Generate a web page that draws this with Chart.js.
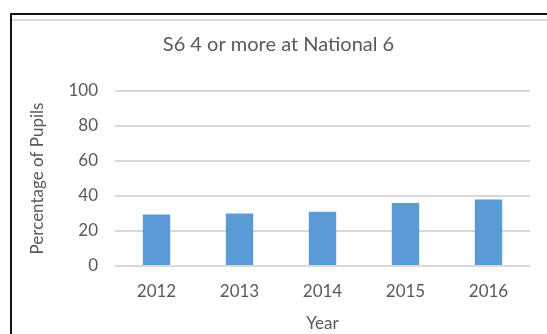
<!DOCTYPE html>
<html>
<head>
<meta charset="utf-8">
<script src="https://cdn.jsdelivr.net/npm/chart.js@4"></script>
<style>
  html, body { margin: 0; padding: 0; background: #fff; }
  #wrap { position: relative; width: 547px; height: 334px; overflow: hidden; }
  #frame { position: absolute; left: 10px; top: 13px; width: 600px; height: 400px;
           border-top: 2px solid #111; border-left: 2px solid #111; }
  #inner { position: absolute; left: 12px; top: 19px; width: 600px; height: 0;
           border-top: 2px solid #d9d9d9; }
  canvas { position: absolute; left: 0; top: 0; }
</style>
</head>
<body>
<div id="wrap">
  <div id="frame"></div>
  <div id="inner"></div>
  <canvas id="pupilsChart" width="547" height="334"></canvas>
</div>
<script>
const years = ['2012', '2013', '2014', '2015', '2016'];
const pupilPercent = [29.5, 30, 31, 36, 38];
const yTicks = [0, 20, 40, 60, 80, 100];

const textGrey = '#595959';
const fontName = 'Lato';

const ctx = document.getElementById('pupilsChart').getContext('2d');
new Chart(ctx, {
    type: 'bar',
    data: {
        labels: years,
        datasets: [{
            label: 'S6 4 or more at National 6',
            data: pupilPercent,
            backgroundColor: '#5b9bd5',
            borderWidth: 0,
            categoryPercentage: 1,
            barPercentage: 0.33
        }]
    },
    options: {
        responsive: false,
        animation: false,
        devicePixelRatio: 1,
        layout: { padding: { left: 27, top: 25, right: 17, bottom: 0 } },
        plugins: {
            legend: { display: false },
            tooltip: { enabled: false },
            title: {
                display: true,
                text: 'S6 4 or more at National 6',
                color: textGrey,
                font: { family: fontName, size: 20, weight: 'normal' },
                padding: { top: 8, bottom: 34 }
            }
        },
        scales: {
            x: {
                grid: { display: false, drawTicks: false },
                border: { display: false },
                ticks: { color: textGrey, font: { family: fontName, size: 17 }, padding: 15 },
                title: {
                    display: true, text: 'Year', color: textGrey,
                    font: { family: fontName, size: 17 }, padding: { top: 0, bottom: 0 }
                },
                afterFit: scale => { scale.height = 68; }
            },
            y: {
                min: 0,
                max: 100,
                afterBuildTicks: scale => { scale.ticks = yTicks.map(v => ({ value: v })); },
                grid: { color: '#d9d9d9', lineWidth: 2, drawTicks: false },
                border: { display: false },
                ticks: { color: textGrey, font: { family: fontName, size: 17 }, padding: 17 },
                title: {
                    display: true, text: 'Percentage of Pupils', color: textGrey,
                    font: { family: fontName, size: 17 }, padding: 0
                },
                afterFit: scale => { scale.width = 88; }
            }
        }
    }
});
</script>
</body>
</html>
